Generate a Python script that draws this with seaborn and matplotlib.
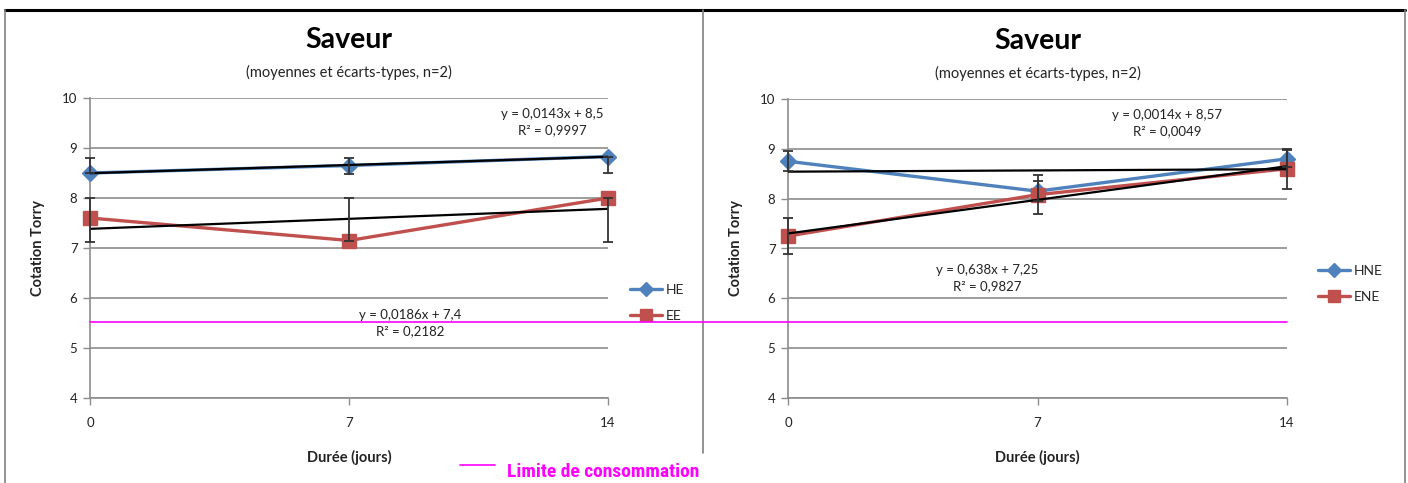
import numpy as np
import pandas as pd
import seaborn as sns
import matplotlib
matplotlib.use("Agg")
import matplotlib.pyplot as plt
from matplotlib.lines import Line2D

# ---------------- data ----------------
days = [0, 7, 14]

he_mean = [8.50, 8.65, 8.83]
he_err_low = [0.00, 0.16, 0.33]
he_err_up = [0.30, 0.16, 0.00]
ee_mean = [7.60, 7.15, 8.00]
ee_err_low = [0.48, 0.00, 0.88]
ee_err_up = [0.40, 0.85, 0.00]

hne_mean = [8.75, 8.15, 8.80]
hne_err = [0.20, 0.20, 0.17]
ene_mean = [7.25, 8.08, 8.60]
ene_err = [0.37, 0.39, 0.40]

limit_value = 5.52

left_labels = ["HE", "EE"]
right_labels = ["HNE", "ENE"]
left_eqs = ["y = 0,0143x + 8,5\nR² = 0,9997", "y = 0,0186x + 7,4\nR² = 0,2182"]
right_eqs = ["y = 0,0014x + 8,57\nR² = 0,0049", "y = 0,638x + 7,25\nR² = 0,9827"]
left_eq_pos = [(12.5, 9.52), (8.65, 5.50)]
right_eq_pos = [(10.63, 9.52), (5.58, 6.41)]

title = "Saveur"
subtitle = "(moyennes et écarts-types, n=2)"
xlabel = "Durée (jours)"
ylabel = "Cotation Torry"
limit_label = "Limite de consommation"

# ---------------- style ----------------
sns.set_theme(style="white")
plt.rcParams["font.family"] = ["Lato", "DejaVu Sans"]

BLUE = "#4F81BD"
RED = "#C0504D"
GRID = "#8C8C8C"
MAGENTA = "#FF00FF"

W, H = 1408, 483
fig = plt.figure(figsize=(W / 100, H / 100), dpi=100)
fig.patch.set_facecolor("white")


def px_ax(x0, x1, ytop, ybot):
    return [x0 / W, 1 - ybot / H, (x1 - x0) / W, (ybot - ytop) / H]


axL = fig.add_axes(px_ax(90, 608, 98, 398))
axR = fig.add_axes(px_ax(788, 1287, 99, 398))


def draw_panel(ax, s1, e1, s2, e2, labels, eqs, eq_pos, leg_anchor):
    df = pd.DataFrame({"day": days * 2,
                       "val": list(s1) + list(s2),
                       "serie": [labels[0]] * 3 + [labels[1]] * 3})
    sns.lineplot(data=df, x="day", y="val", hue="serie",
                 palette={labels[0]: BLUE, labels[1]: RED},
                 linewidth=2.4, ax=ax, legend=False, zorder=3)
    # markers (not clipped)
    ax.plot(days, s1, linestyle="none", marker="D", markersize=8,
            color=BLUE, zorder=4, clip_on=False)
    ax.plot(days, s2, linestyle="none", marker="s", markersize=10,
            color=RED, zorder=4, clip_on=False)
    # error bars
    for s, e in ((s1, e1), (s2, e2)):
        ax.errorbar(days, s, yerr=e, fmt="none", ecolor="#333333",
                    elinewidth=1.3, capsize=3.5, capthick=1.3, zorder=6,
                    clip_on=False)
    # trend lines
    for s in (s1, s2):
        sns.regplot(x=np.array(days, float), y=np.array(s, float), ax=ax,
                    scatter=False, ci=None, truncate=True,
                    line_kws=dict(color="black", linewidth=1.6, zorder=5))
    for txt, (x, y) in zip(eqs, eq_pos):
        ax.text(x, y, txt, ha="center", va="center", fontsize=9.5,
                linespacing=1.45, color="#222222", zorder=7)

    ax.set_xlim(0, 14)
    ax.set_ylim(4, 10)
    ax.set_xticks(days)
    ax.set_yticks(range(4, 11))
    ax.tick_params(axis="both", labelsize=9.5, colors="#222222",
                   length=5, width=1, color=GRID, direction="out",
                   left=True, bottom=True, pad=4)
    ax.tick_params(axis="x", pad=9)
    ax.yaxis.grid(True, color=GRID, linewidth=1.2)
    ax.xaxis.grid(False)
    for sp in ("top", "right"):
        ax.spines[sp].set_visible(False)
    for sp in ("left", "bottom"):
        ax.spines[sp].set_color(GRID)
        ax.spines[sp].set_linewidth(1.2)
    ax.set_xlabel(xlabel, fontsize=10.5, fontweight="bold", labelpad=15,
                  color="#222222")
    ax.set_ylabel(ylabel, fontsize=10.5, fontweight="bold", labelpad=12,
                  color="#222222")
    ax.set_title(subtitle, fontsize=10.5, pad=15, color="#222222")
    ax.text(0.5, 0.193 + 1.0, title, transform=ax.transAxes, ha="center",
            va="center", fontsize=20.5, fontweight="bold", color="black")
    # legend
    handles = [Line2D([], [], color=BLUE, lw=2.4, marker="D", markersize=7),
               Line2D([], [], color=RED, lw=2.4, marker="s", markersize=9)]
    ax.legend(handles, labels, loc="center left", frameon=False,
              bbox_to_anchor=leg_anchor, bbox_transform=fig.transFigure,
              fontsize=10, handlelength=2.3, handletextpad=0.3,
              labelspacing=1.05, borderpad=0, borderaxespad=0)


draw_panel(axL, he_mean, [he_err_low, he_err_up], ee_mean,
           [ee_err_low, ee_err_up], left_labels, left_eqs, left_eq_pos,
           (630 / W, 1 - 303 / H))
draw_panel(axR, hne_mean, hne_err, ene_mean, ene_err, right_labels,
           right_eqs, right_eq_pos, (1318 / W, 1 - 284 / H))

# consumption limit line across both panels
fig.canvas.draw()
inv = fig.transFigure.inverted()
p0 = inv.transform(axL.transData.transform((0, limit_value)))
p1 = inv.transform(axR.transData.transform((14, limit_value)))
fig.add_artist(Line2D([p0[0], p1[0]], [p0[1], p0[1]], color=MAGENTA,
                      linewidth=1.2, zorder=10))

# bottom legend for the limit
fig.add_artist(Line2D([460 / W, 495 / W], [1 - 465 / H, 1 - 465 / H],
                      color=MAGENTA, linewidth=1.2))
fig.text(507 / W, 1 - 472 / H, limit_label, ha="left", va="center",
         fontsize=14, fontweight="bold", color=MAGENTA,
         family=["Roboto Condensed", "Open Sans Condensed", "Lato"],
         fontstretch="condensed")

# frame lines
fig.add_artist(Line2D([5 / W, 1405 / W], [1 - 10 / H, 1 - 10 / H],
                      color="black", linewidth=2.2))
fig.add_artist(Line2D([5 / W, 5 / W], [1 - 10 / H, 0], color="#808080",
                      linewidth=1.2))
fig.add_artist(Line2D([703 / W, 703 / W], [1 - 10 / H, 1 - 453 / H],
                      color="#808080", linewidth=1.2))
fig.add_artist(Line2D([1405 / W, 1405 / W], [1 - 10 / H, 0],
                      color="#808080", linewidth=1.2))

fig.savefig("out.png", dpi=100, facecolor="white")
